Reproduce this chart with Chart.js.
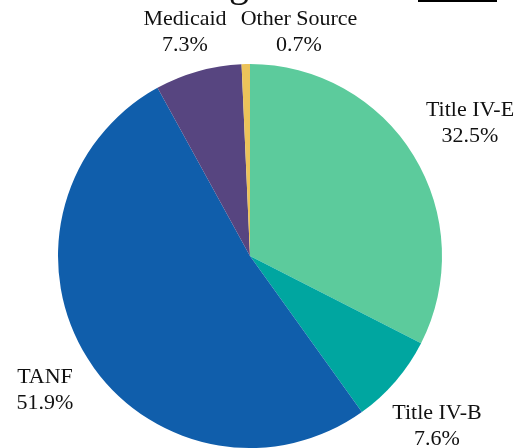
<!DOCTYPE html>
<html>
<head>
<meta charset="utf-8">
<script src="https://cdn.jsdelivr.net/npm/chart.js@4"></script>
<style>
html,body{margin:0;padding:0;background:#fff;}
#wrap{width:532px;height:448px;position:relative;}
</style>
</head>
<body>
<div id="wrap"><canvas id="c" width="532" height="448"></canvas></div>
<script>
const categories = ["Title IV-E", "Title IV-B", "TANF", "Medicaid", "Other Source"];
const shares = [32.5, 7.6, 51.9, 7.3, 0.7];
const percentLabels = ["32.5%", "7.6%", "51.9%", "7.3%", "0.7%"];
const sliceColors = ["#5ccb9c", "#00a6a0", "#105eab", "#574580", "#ecc35a"];
const labelPositions = [[470, 110], [437, 413], [45, 377], [185, 19], [299, 19]];

const labelPlugin = {
  id: 'outerLabels',
  afterDraw(chart) {
    const ctx = chart.ctx;
    ctx.save();
    ctx.fillStyle = '#111';
    ctx.textAlign = 'center';
    ctx.textBaseline = 'middle';
    ctx.font = '22px "Liberation Serif", serif';
    categories.forEach((c, i) => {
      const [x, y] = labelPositions[i];
      ctx.fillText(c, x, y);
      ctx.fillText(percentLabels[i], x, y + 26);
    });
    // cropped heading remnants at the very top
    ctx.font = '40px "Liberation Serif", serif';
    ctx.textBaseline = 'alphabetic';
    ctx.fillText('g', 239, -4);
    ctx.fillStyle = '#000';
    ctx.fillRect(418, 0, 79, 2);
    ctx.restore();
  }
};

new Chart(document.getElementById('c'), {
  type: 'pie',
  data: {
    labels: categories,
    datasets: [{
      data: shares,
      backgroundColor: sliceColors,
      borderWidth: 0
    }]
  },
  options: {
    responsive: false,
    animation: false,
    layout: { padding: { left: 58, right: 90, top: 64, bottom: 0 } },
    plugins: { legend: { display: false }, tooltip: { enabled: false }, title: { display: false } }
  },
  plugins: [labelPlugin]
});
</script>
</body>
</html>
